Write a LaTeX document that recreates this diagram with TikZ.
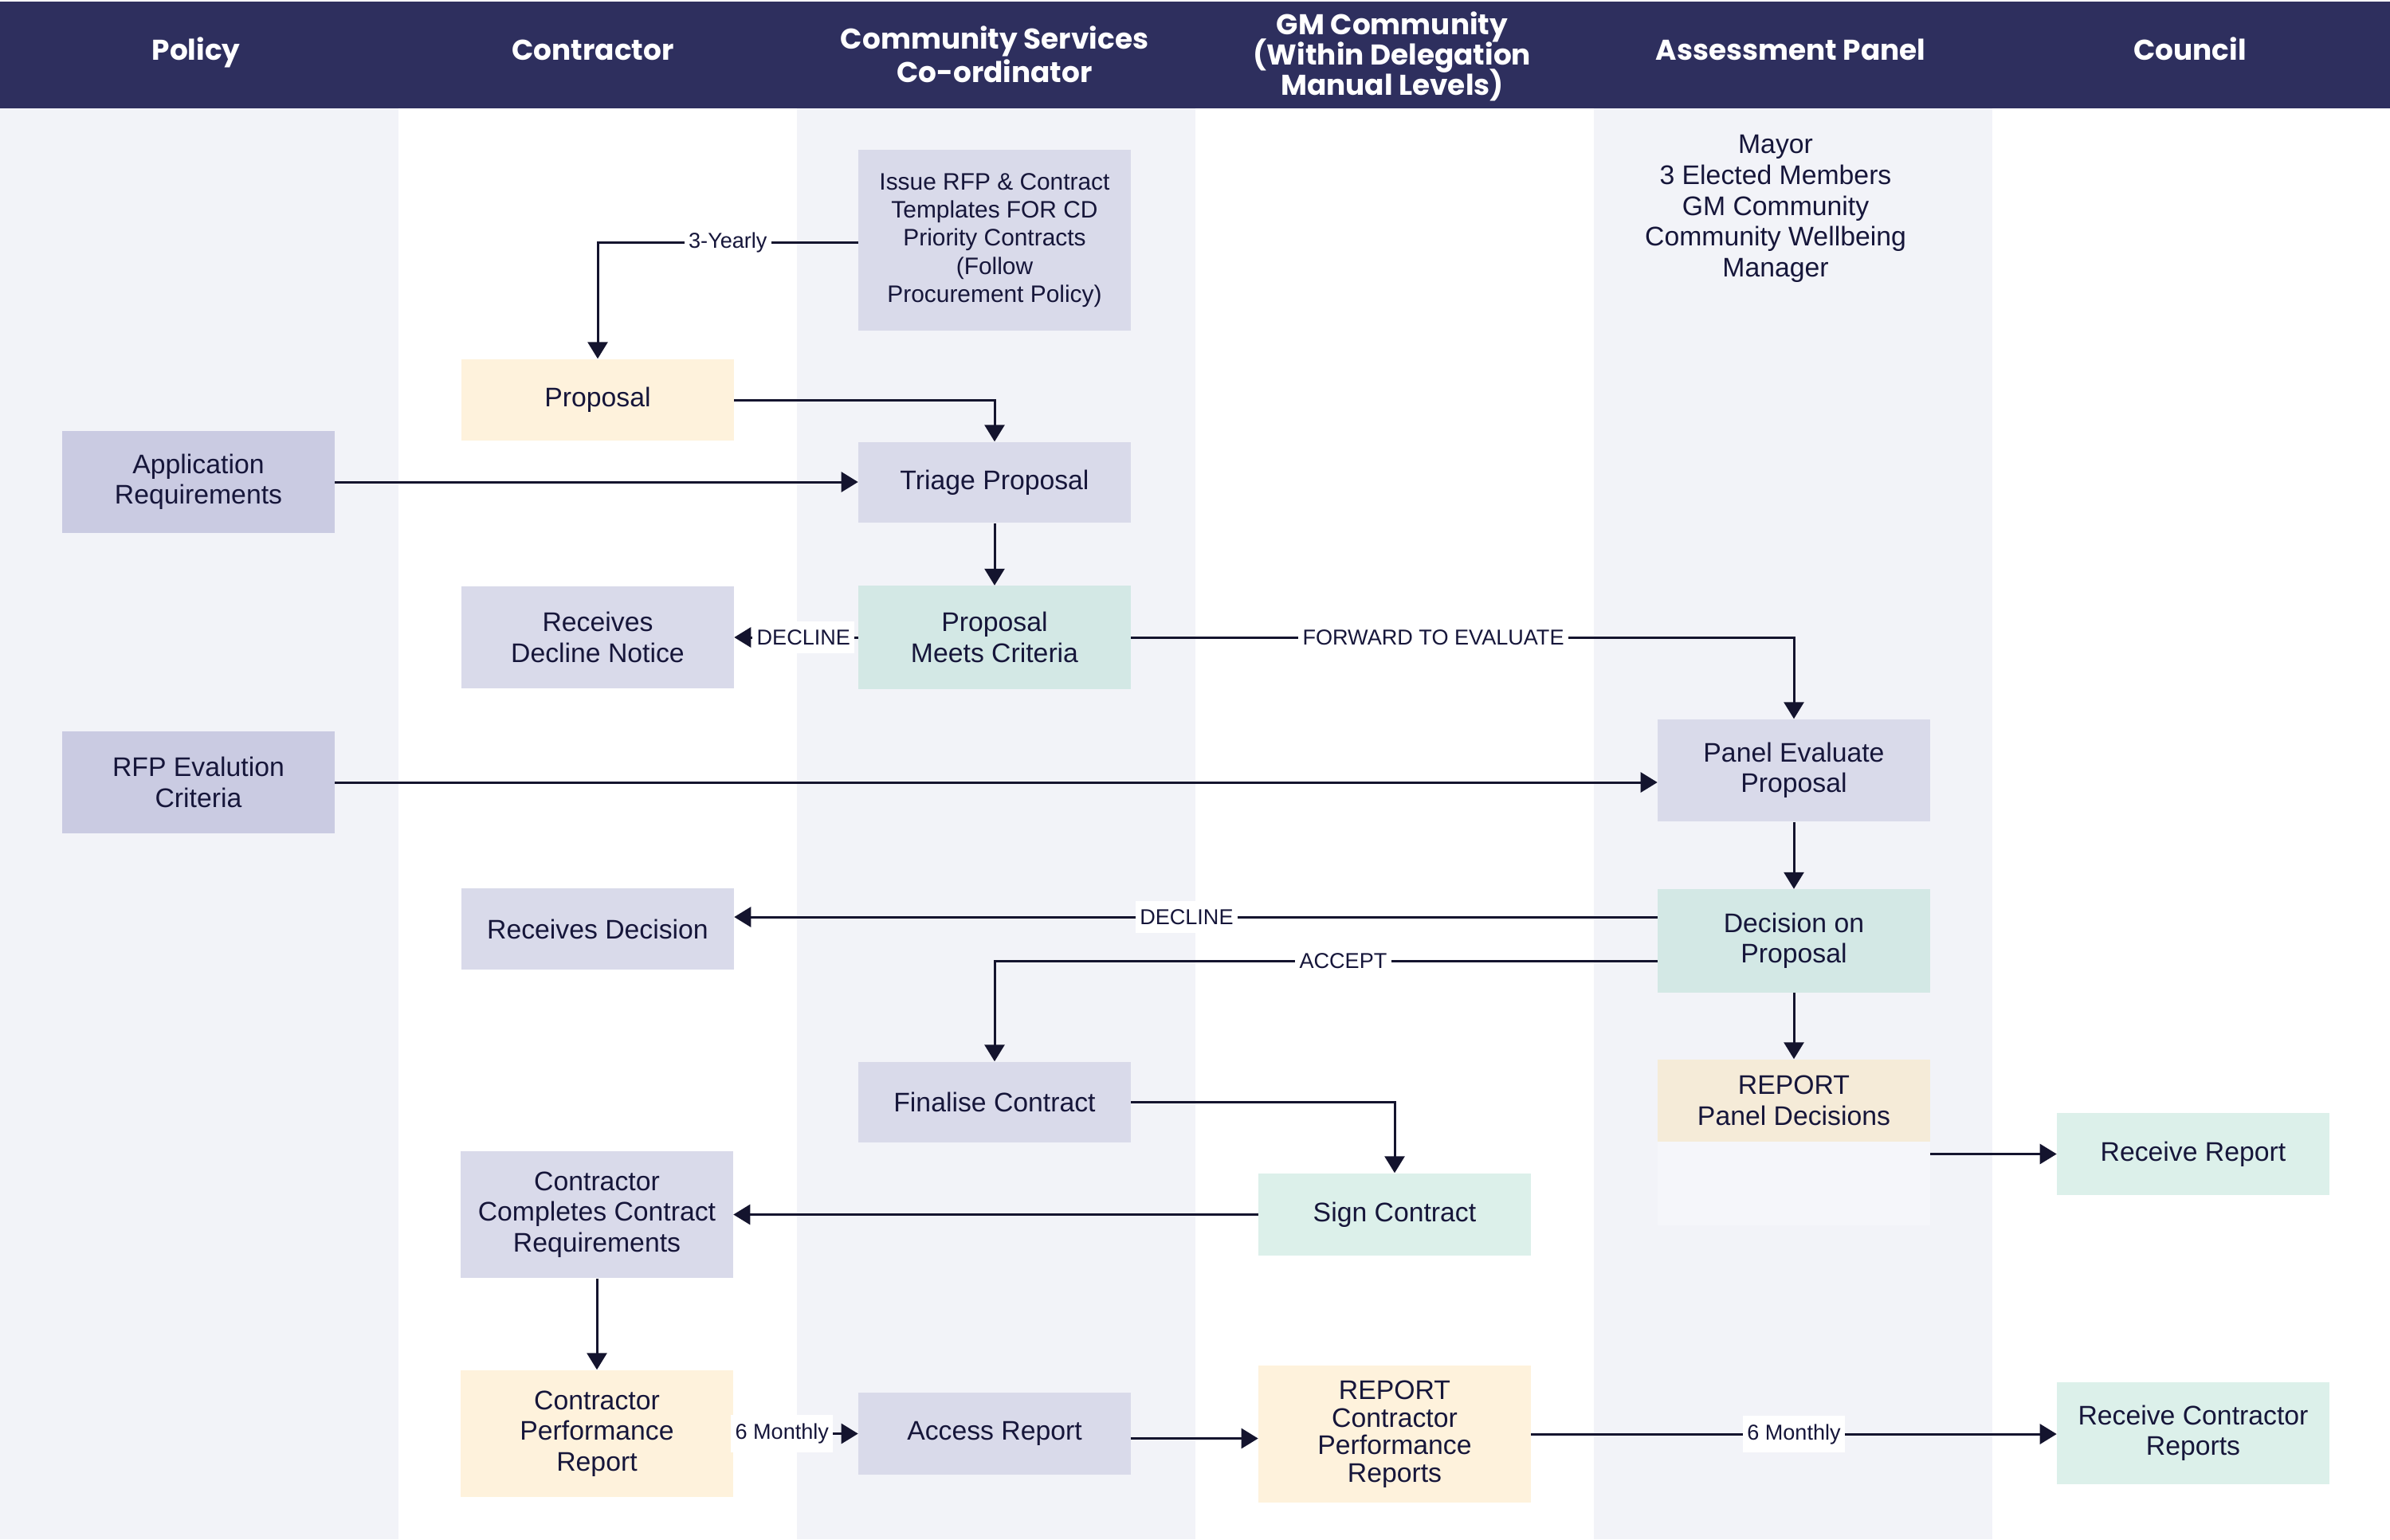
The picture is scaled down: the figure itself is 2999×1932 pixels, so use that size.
\documentclass[tikz,border=0pt]{standalone}
\usepackage{fontspec}
\setmainfont{Liberation Sans}
\newfontfamily\hfont{Poppins}
\usetikzlibrary{arrows.meta,calc}
\definecolor{hdr}{HTML}{2E2F5E}
\definecolor{lanec}{HTML}{F2F3F8}
\definecolor{lav}{HTML}{D9DAEA}
\definecolor{lavd}{HTML}{CACBE2}
\definecolor{mintl}{HTML}{DCF0EA}
\definecolor{mintd}{HTML}{D3E8E5}
\definecolor{cream}{HTML}{FEF2DC}
\definecolor{beige}{HTML}{F5EBD8}
\definecolor{ghost}{HTML}{F5F6FA}
\definecolor{textc}{HTML}{16163A}
\definecolor{linec}{HTML}{14142E}
\newcommand{\boxfont}{\fontsize{9.6}{10.9}\selectfont}
\newcommand{\memfont}{\fontsize{9.6}{11}\selectfont}
\newcommand{\smallboxfont}{\fontsize{8.5}{10}\selectfont}
\newcommand{\lblfont}{\fontsize{7.7}{9}\selectfont}
\newcommand{\hdfont}{\hfont\bfseries\fontsize{10.2}{11.9}\selectfont\setlength{\lineskiplimit}{-20pt}}
\newcommand{\hdfonttight}{\hfont\bfseries\fontsize{10.2}{10.9}\selectfont\setlength{\lineskiplimit}{-20pt}}
\tikzset{
  hd/.style={text=white, font=\hdfont, align=center, inner sep=0},
  bx/.style={rectangle, minimum width=3.41cm, align=center, font=\boxfont, text=textc, inner sep=0},
  arr/.style={draw=linec, line width=0.85pt, -{Triangle[length=0.21cm,width=0.25cm]}},
  lbl/.style={fill=white, font=\lblfont, text=textc, inner xsep=1.5pt, inner ysep=3pt}
}
\begin{document}
\begin{tikzpicture}[x=0.01cm,y=-0.01cm]
\useasboundingbox (0,0) rectangle (2999,1932);
% lanes
\fill[lanec] (0,136) rectangle (500,1932);
\fill[lanec] (1000,136) rectangle (1500,1932);
\fill[lanec] (2000,136) rectangle (2500,1932);
% header
\fill[hdr] (0,2) rectangle (2999,136);
\node[hd, anchor=base] (h1) at (246,75) {Policy};
\node[hd, anchor=base] (h2) at (744,75) {Contractor};
\node[hd] (h3) at (1248,68) {Community Services\\Co-ordinator};
\node[hd, font=\hdfonttight] (h4) at (1747,71) {GM Community\\(Within Delegation\\Manual Levels)};
\node[hd, anchor=base] (h5) at (2247,75) {Assessment Panel};
\node[hd, anchor=base] (h6) at (2748,75) {Council};
% panel members
\node[align=center, font=\memfont, text=textc, inner sep=0] (mem) at (2228,262) {Mayor\\3 Elected Members\\GM Community\\Community Wellbeing\\Manager};
% ghost area under report
\fill[ghost] (2080,1433) rectangle (2422,1538);
% boxes
\node[bx, fill=lav, minimum height=2.27cm, font=\smallboxfont] (issue) at (1248,301.5) {Issue RFP \& Contract\\Templates FOR CD\\Priority Contracts\\(Follow\\Procurement Policy)};
\node[bx, fill=cream, minimum height=1.02cm] (prop) at (750,502) {Proposal};
\node[bx, fill=lavd, minimum height=1.28cm] (appreq) at (249,605) {Application\\Requirements};
\node[bx, fill=lav, minimum height=1.01cm] (tri) at (1248,605.5) {Triage Proposal};
\node[bx, fill=lav, minimum height=1.28cm] (rdn) at (750,800) {Receives\\Decline Notice};
\node[bx, fill=mintd, minimum height=1.29cm] (pmc) at (1248,800) {Proposal\\Meets Criteria};
\node[bx, fill=lavd, minimum height=1.28cm] (rfp) at (249,982) {RFP Evalution\\Criteria};
\node[bx, fill=lav, minimum height=1.28cm] (pe) at (2251,967) {Panel Evaluate\\Proposal};
\node[bx, fill=lav, minimum height=1.01cm] (rd) at (750,1166) {Receives Decision};
\node[bx, fill=mintd, minimum height=1.29cm] (dec) at (2251,1181) {Decision on\\Proposal};
\node[bx, fill=lav, minimum height=1.01cm] (fc) at (1248,1383.5) {Finalise Contract};
\node[bx, fill=beige, minimum height=1.03cm] (rpd) at (2251,1381.5) {REPORT\\Panel Decisions};
\node[bx, fill=mintl, minimum height=1.03cm] (rr) at (2752,1448.5) {Receive Report};
\node[bx, fill=mintl, minimum height=1.03cm] (sc) at (1750,1524.5) {Sign Contract};
\node[bx, fill=lav, minimum height=1.59cm] (cccr) at (749,1524.5) {Contractor\\Completes Contract\\Requirements};
\node[bx, fill=cream, minimum height=1.59cm] (cpr) at (749,1799.5) {Contractor\\Performance\\Report};
\node[bx, fill=lav, minimum height=1.03cm] (ar) at (1248,1799.5) {Access Report};
\node[bx, fill=cream, minimum height=1.72cm, font=\fontsize{9.6}{9.8}\selectfont] (rcpr) at (1750,1800) {REPORT\\Contractor\\Performance\\Reports};
\node[bx, fill=mintl, minimum height=1.28cm] (rcr) at (2752,1799) {Receive Contractor\\Reports};
% connectors
\draw[arr] ($(issue.west)+(0,3)$) -| node[lbl, pos=0.25] {3-Yearly} (prop.north);
\draw[arr] (prop.east) -| (tri.north);
\draw[arr] (appreq.east) -- (appreq.east -| tri.west);
\draw[arr] (tri.south) -- (pmc.north);
\draw[arr] (pmc.west) -- node[lbl, pos=0.44] {DECLINE} (rdn.east);
\draw[arr] (pmc.east) -| node[lbl, pos=0.228] {FORWARD TO EVALUATE} (pe.north);
\draw[arr] (rfp.east) -- (rfp.east -| pe.west);
\draw[arr] (pe.south) -- (dec.north);
\draw[arr] ($(dec.west)+(0,-30)$) -- node[lbl, pos=0.51] {DECLINE} ($(rd.east |- dec.west)+(0,-30)$);
\draw[arr] ($(dec.west)+(0,25)$) -| node[lbl, pos=0.237] {ACCEPT} (fc.north);
\draw[arr] (dec.south) -- (rpd.north);
\draw[arr] (rpd.east |- rr.west) -- (rr.west);
\draw[arr] (fc.east) -| (sc.north);
\draw[arr] (sc.west) -- (cccr.east);
\draw[arr] (cccr.south) -- (cpr.north);
\draw[arr] (cpr.east) -- node[lbl, pos=0.39] {6 Monthly} (ar.west);
\draw[arr] ($(ar.east)+(0,6)$) -- ($(ar.east -| rcpr.west)+(0,6)$);
\draw[arr] (rcpr.east) -- node[lbl, midway] {6 Monthly} (rcpr.east -| rcr.west);
\end{tikzpicture}
\end{document}
